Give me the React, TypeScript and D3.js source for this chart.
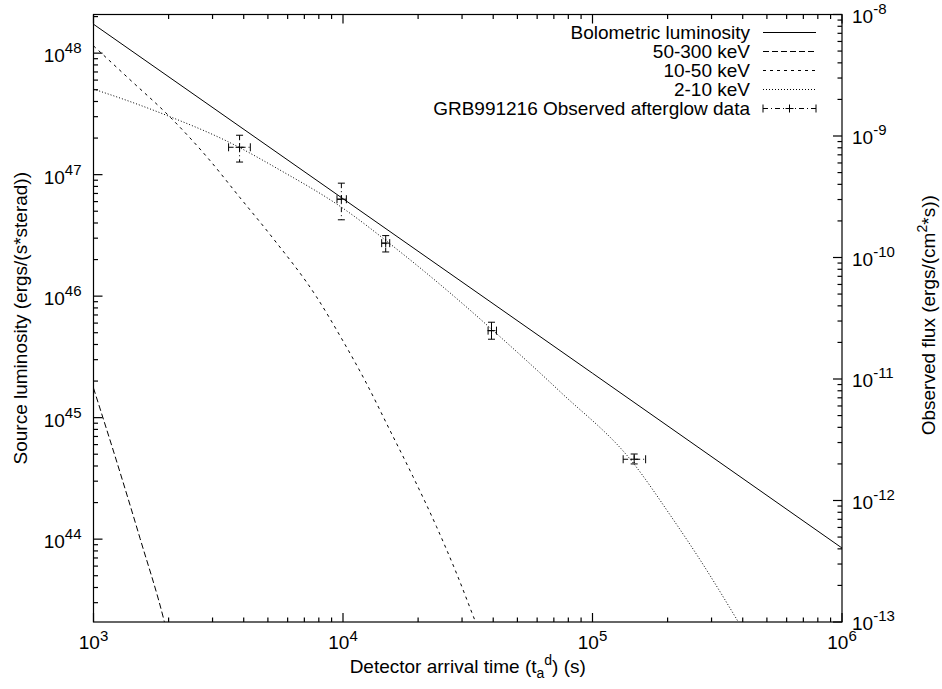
import React from "react";
import * as d3 from "d3";

// Bolometric luminosity (straight power law)
const bolTime = [1e3, 1e4, 1e5, 1e6];
const bolLum = [1.73e48, 6.34e46, 2.32e45, 8.45e43];

// 50-300 keV
const hardTime = [1000, 1233, 1537, 1923, 1971];
const hardLum = [1.75e45, 4.49e44, 1.013e44, 2.09e43, 1.7e43];

// 10-50 keV
const midTime = [1000, 1394, 2017, 2873, 3850, 5237, 7820, 9850, 12410, 15390, 19080, 23690, 28500, 33950, 36300];
const midLum = [1.148e48, 6.1e47, 3.01e47, 1.37e47, 6.53e46, 3.0e46, 9.91e45, 4.51e45, 1.92e45, 7.93e44, 3.27e44, 1.27e44, 5.24e43, 2.09e43, 1.48e43];

// 2-10 keV
const softTime = [1000, 1394, 2017, 3456, 5572, 9850, 16880, 30200, 39370, 74310, 145500, 204300, 277800, 383800, 408300];
const softLum = [5.06e47, 4.01e47, 3.01e47, 1.87e47, 1.095e47, 5.4e46, 2.33e46, 8.65e45, 5.355e45, 1.63e45, 4.24e44, 1.59e44, 6.16e43, 2.088e43, 1.688e43];

// GRB991216 observed afterglow data
const obsTime = [3850, 9850, 14830, 39370, 146900];
const obsTimeLo = [3479, 9460, 14290, 38150, 132700];
const obsTimeHi = [4252, 10315, 15390, 41220, 163300];
const obsLum = [1.68e47, 6.28e46, 2.73e46, 5.2e45, 4.545e44];
const obsLumLo = [1.27e47, 4.25e46, 2.31e46, 4.42e45, 4.16e44];
const obsLumHi = [2.11e47, 8.51e46, 3.15e46, 6.1e45, 5.02e44];

const legendLabels = [
  "Bolometric luminosity",
  "50-300 keV",
  "10-50 keV",
  "2-10 keV",
  "GRB991216 Observed afterglow data",
];
const xTickExps = [3, 4, 5, 6];
const yTickExps = [44, 45, 46, 47, 48];
const y2TickExps = [-13, -12, -11, -10, -9, -8];

const FONT = "'Liberation Sans', Arial, Helvetica, sans-serif";

export default function App() {
  const W = 942, H = 689;
  const L = 93.5, R = 842, T = 14.5, B = 622;
  const x = d3.scaleLog().domain([1e3, 1e6]).range([L, R]);
  const y = d3.scaleLog().domain([2.08e43, 2.08e48]).range([B, T]);
  const y2 = d3.scaleLog().domain([1e-13, 1e-8]).range([B, T]);

  const line = d3
    .line<[number, number]>()
    .x((d) => x(d[0]))
    .y((d) => y(d[1]))
    .curve(d3.curveMonotoneX);

  const zip = (a: number[], b: number[]) => a.map((v, i) => [v, b[i]] as [number, number]);

  const series = [
    { data: zip(bolTime, bolLum), dash: undefined as string | undefined },
    { data: zip(hardTime, hardLum), dash: "6,3" },
    { data: zip(midTime, midLum), dash: "3,4" },
    { data: zip(softTime, softLum), dash: "1,2" },
  ];
  const obsDash = "5,3,1,3";

  const MAJ = 9, MIN = 4.5;
  const ticks: JSX.Element[] = [];
  for (let e = 3; e <= 6; e++) {
    for (let m = 1; m <= 9; m++) {
      const v = m * Math.pow(10, e);
      if (v > 1e6 * 1.0001) continue;
      const len = m === 1 ? MAJ : MIN;
      const px = x(v);
      ticks.push(<line key={`xb${e}-${m}`} x1={px} x2={px} y1={B} y2={B - len} />);
      ticks.push(<line key={`xt${e}-${m}`} x1={px} x2={px} y1={T} y2={T + len} />);
    }
  }
  for (let e = 43; e <= 48; e++) {
    for (let m = 1; m <= 9; m++) {
      const v = m * Math.pow(10, e);
      if (v < 2.08e43 || v > 2.08e48) continue;
      const len = m === 1 ? MAJ : MIN;
      const py = y(v);
      ticks.push(<line key={`yl${e}-${m}`} x1={L} x2={L + len} y1={py} y2={py} />);
    }
  }
  for (let e = -13; e <= -8; e++) {
    for (let m = 1; m <= 9; m++) {
      const v = m * Math.pow(10, e);
      if (v > 1e-8 * 1.0001) continue;
      const len = m === 1 ? MAJ : MIN;
      const py = y2(v);
      ticks.push(<line key={`yr${e}-${m}`} x1={R} x2={R - len} y1={py} y2={py} />);
    }
  }

  const legendY = (i: number) => 32.5 + i * 19;

  return (
    <svg
      width={W}
      height={H}
      style={{ position: "absolute", left: 0, top: 0, background: "#fff" }}
      fontFamily={FONT}
      fontSize={19}
    >
      <rect x={0} y={0} width={W} height={H} fill="#fff" />
      <defs>
        <clipPath id="plotclip">
          <rect x={L} y={T} width={R - L} height={B - T} />
        </clipPath>
      </defs>

      <g clipPath="url(#plotclip)" fill="none" stroke="#000" strokeWidth={1}>
        {series.map((s, i) => (
          <path key={i} d={line(s.data) || ""} strokeDasharray={s.dash} />
        ))}
      </g>

      <g stroke="#000" strokeWidth={1} fill="none">
        {obsTime.map((t, i) => {
          const cx = x(t), cy = y(obsLum[i]);
          const xl = x(obsTimeLo[i]), xh = x(obsTimeHi[i]);
          const yl = y(obsLumLo[i]), yh = y(obsLumHi[i]);
          return (
            <g key={i}>
              <line x1={xl} x2={xh} y1={cy} y2={cy} strokeDasharray={obsDash} />
              <line x1={cx} x2={cx} y1={yh} y2={yl} strokeDasharray={obsDash} />
              <line x1={xl} x2={xl} y1={cy - 4} y2={cy + 4} />
              <line x1={xh} x2={xh} y1={cy - 4} y2={cy + 4} />
              <line x1={cx - 3.5} x2={cx + 3.5} y1={yh} y2={yh} />
              <line x1={cx - 3.5} x2={cx + 3.5} y1={yl} y2={yl} />
              <line x1={cx - 4} x2={cx + 4} y1={cy} y2={cy} />
              <line x1={cx} x2={cx} y1={cy - 4} y2={cy + 4} />
            </g>
          );
        })}
      </g>

      <g stroke="#000" strokeWidth={1.2} fill="none">
        <rect x={L} y={T} width={R - L} height={B - T} />
        {ticks}
      </g>

      <g fill="#000">
        {xTickExps.map((e) => (
          <text key={`xl${e}`} x={x(Math.pow(10, e))} y={B + 27} textAnchor="middle">
            10<tspan dy={-8} fontSize={15}>{e}</tspan>
          </text>
        ))}
        {yTickExps.map((e) => (
          <text key={`yl${e}`} x={L - 12} y={y(Math.pow(10, e)) + 9} textAnchor="end">
            10<tspan dy={-9} fontSize={15}>{e}</tspan>
          </text>
        ))}
        {y2TickExps.map((e) => (
          <text key={`y2l${e}`} x={R + 10} y={y2(Math.pow(10, e)) + 8} textAnchor="start">
            10<tspan dy={-9} fontSize={15}>{e}</tspan>
          </text>
        ))}
      </g>

      <text x={(L + R) / 2} y={673} textAnchor="middle">
        Detector arrival time (t<tspan dy={5} fontSize={14}>a</tspan>
        <tspan dy={-13} fontSize={14}>d</tspan>
        <tspan dy={8}>) (s)</tspan>
      </text>
      <text transform={`translate(27,${(T + B) / 2}) rotate(-90)`} textAnchor="middle">
        Source luminosity (ergs/(s*sterad))
      </text>
      <text transform={`translate(935,${(T + B) / 2 - 3}) rotate(-90)`} textAnchor="middle">
        Observed flux (ergs/(cm<tspan dy={-8} fontSize={14}>2</tspan>
        <tspan dy={8}>*s))</tspan>
      </text>

      <g>
        {legendLabels.map((lab, i) => (
          <text key={lab} x={750} y={legendY(i) + 6.5} textAnchor="end">
            {lab}
          </text>
        ))}
        <g stroke="#000" strokeWidth={1} fill="none">
          {series.map((s, i) => (
            <line key={i} x1={763} x2={816} y1={legendY(i)} y2={legendY(i)} strokeDasharray={s.dash} />
          ))}
          <line x1={763} x2={816} y1={legendY(4)} y2={legendY(4)} strokeDasharray={obsDash} />
          <line x1={763} x2={763} y1={legendY(4) - 4} y2={legendY(4) + 4} />
          <line x1={816} x2={816} y1={legendY(4) - 4} y2={legendY(4) + 4} />
          <line x1={789.5} x2={789.5} y1={legendY(4) - 4} y2={legendY(4) + 4} />
          <line x1={785.5} x2={793.5} y1={legendY(4)} y2={legendY(4)} />
        </g>
      </g>
    </svg>
  );
}
